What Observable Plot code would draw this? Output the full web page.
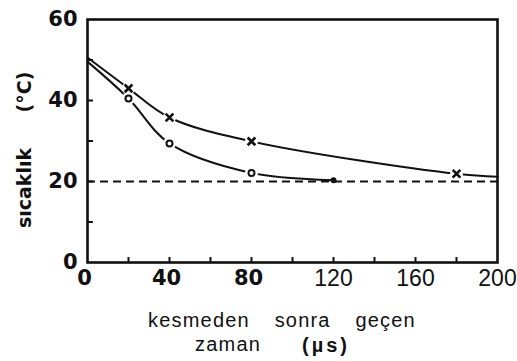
<!DOCTYPE html>
<html>
<head>
<meta charset="utf-8">
<script src="https://cdn.jsdelivr.net/npm/d3@7"></script>
<script src="https://cdn.jsdelivr.net/npm/@observablehq/plot@0.6"></script>
<style>
  html, body { margin: 0; padding: 0; background: #fff; }
  #wrap { position: relative; width: 517px; height: 361px; overflow: hidden; }
  .cap { position: absolute; font-family: "Liberation Sans", Arial, sans-serif; font-size: 20px; line-height: 20px; color: #111; white-space: pre; letter-spacing: 1.2px; }
  .unit { position: absolute; font-family: "Liberation Sans", Arial, sans-serif; font-weight: bold; font-size: 20px; line-height: 20px; color: #111; white-space: pre; letter-spacing: 3px; }
  .ytitle { position: absolute; font-family: "DejaVu Sans", sans-serif; font-weight: bold; font-size: 19px; line-height: 19px; color: #111; white-space: pre; transform: translate(-50%, -50%) rotate(-90deg); }
</style>
</head>
<body>
<div id="wrap">
  <div id="chart"></div>
  <div class="cap" style="left:148px; top:310px; word-spacing:18px;">kesmeden sonra geçen</div>
  <div class="cap" style="left:195px; top:334px;">zaman</div>
  <div class="unit" style="left:302px; top:335px;">(µs)</div>
  <div class="ytitle" id="yt1" style="left:24px; top:188px;"></div>
  <div class="ytitle" id="yt2" style="left:24px; top:92px;"></div>
</div>
<script>
// Series (x in µs, y in °C)
const crossX = [0, 20, 40, 80, 180, 200];
const crossY = [50.6, 43.0, 35.8, 29.9, 21.9, 21.2];
const crossMarked = [false, true, true, true, true, false];

const circleX = [0, 20, 40, 80, 120];
const circleY = [49.6, 40.5, 29.4, 22.1, 20.3];
const circleMarked = [false, true, true, true, false];
const circleFilled = [false, false, false, false, true];

const ambient = [20];

const yLabelTicks = [0, 20, 40, 60];
const yMinorTicks = [10, 20, 30, 40, 50];
const xBoldTicks = [0, 40, 80];
const xPlainTicks = [120, 160, 200];
const xMinorTicks = [20, 40, 60, 80, 100, 120, 140, 160, 180];

const yTitleMain = "sıcaklık";
const yTitleUnit = "(°C)";

document.getElementById("yt1").textContent = yTitleMain;
document.getElementById("yt2").textContent = yTitleUnit;

const crosses = crossX.map((x, i) => ({x, y: crossY[i], m: crossMarked[i]}));
const circles = circleX.map((x, i) => ({x, y: circleY[i], m: circleMarked[i], f: circleFilled[i]}));

const W = 517, H = 300;
const mL = 87, mR = 20, mT = 19, mB = 38;
const frameW = W - mL - mR, frameH = H - mT - mB;

const chart = Plot.plot({
  width: W,
  height: H,
  marginLeft: mL,
  marginRight: mR,
  marginTop: mT,
  marginBottom: mB,
  style: {fontFamily: "DejaVu Sans", color: "#111", background: "#fff"},
  x: {domain: [0, 200], label: null},
  y: {domain: [0, 60], label: null},
  marks: [
    Plot.ruleY(ambient, {stroke: "#111", strokeWidth: 2, strokeDasharray: "8,5"}),
    Plot.line(crosses, {x: "x", y: "y", curve: "catmull-rom", stroke: "#111", strokeWidth: 2}),
    Plot.line(circles, {x: "x", y: "y", curve: "catmull-rom", stroke: "#111", strokeWidth: 2}),
    // white gaps around markers
    Plot.dot(crosses.filter(d => d.m), {x: "x", y: "y", r: 6.5, fill: "#fff", stroke: "none"}),
    Plot.dot(circles.filter(d => d.m), {x: "x", y: "y", r: 6.5, fill: "#fff", stroke: "none"}),
    Plot.dot(crosses.filter(d => d.m), {x: "x", y: "y", symbol: "times", r: 3.6, stroke: "#111", strokeWidth: 2.6}),
    Plot.dot(circles.filter(d => d.m), {x: "x", y: "y", symbol: "circle", r: 3, fill: "#fff", stroke: "#111", strokeWidth: 2}),
    Plot.dot(circles.filter(d => d.f), {x: "x", y: "y", symbol: "circle", r: 3, fill: "#111", stroke: "none"}),
    // inward ticks
    Plot.tickY(yMinorTicks, {y: d => d, stroke: "#111", strokeWidth: 2, insetRight: frameW - 6}),
    Plot.tickX(xMinorTicks, {x: d => d, stroke: "#111", strokeWidth: 2, insetTop: frameH - 5}),
    Plot.frame({stroke: "#111", strokeWidth: 2.6}),
    Plot.axisY({ticks: yLabelTicks, tickSize: 0, tickPadding: 10, fontSize: 21, fontWeight: "bold", fontFamily: "DejaVu Sans", label: null}),
    Plot.axisX({ticks: xBoldTicks, tickSize: 0, tickPadding: 8, fontSize: 21, fontWeight: "bold", fontFamily: "DejaVu Sans", dx: -3, label: null}),
    Plot.axisX({ticks: xPlainTicks, tickSize: 0, tickPadding: 7, fontSize: 23, fontFamily: "Liberation Sans", letterSpacing: 1, label: null})
  ]
});
document.getElementById("chart").appendChild(chart);
</script>
</body>
</html>
